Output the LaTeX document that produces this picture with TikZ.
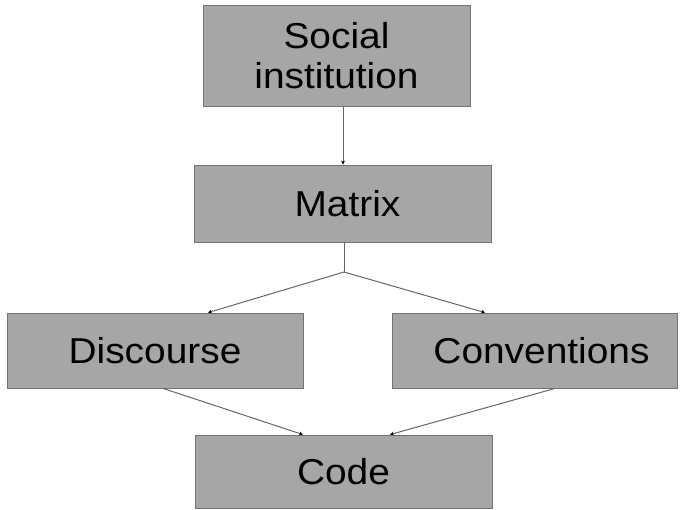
\documentclass[tikz,border=0pt]{standalone}
\usepackage{fontspec}
\newfontfamily\lab[FakeStretch=1.08]{Liberation Sans}
\usetikzlibrary{arrows.meta}
\begin{document}
\begin{tikzpicture}[x=1pt,y=-1pt,
  box/.style={draw=black!55, line width=0.8pt, fill=black!35, inner sep=0pt,
    font=\lab\fontsize{36}{40}\selectfont, text=black, align=center},
  conn/.style={draw=black!60, line width=1pt},
  arr/.style={conn, -{Stealth[length=4pt,width=4pt,black]}}]
\useasboundingbox (0,0) rectangle (680,510);
\node[box, minimum width=267pt, minimum height=101pt] (soc) at (336.5,56) {Social\\institution};
\node[box, minimum width=297pt, minimum height=77pt] (mat) at (342.5,203.5) {\hspace*{10pt}Matrix};
\node[box, minimum width=296pt, minimum height=75pt] (dis) at (155,350.5) {Discourse};
\node[box, minimum width=285pt, minimum height=75pt] (con) at (534.5,350.5) {\hspace*{14pt}Conventions};
\node[box, minimum width=297pt, minimum height=73pt] (cod) at (343.5,471.5) {Code};
\coordinate (sx) at (343,0);
\coordinate (j) at (344,272);
\coordinate (dt) at (208,0);
\coordinate (ct) at (485,0);
\coordinate (db) at (163,0);
\coordinate (cb) at (555,0);
\coordinate (kl) at (303,0);
\coordinate (kr) at (390,0);
\draw[arr] (soc.south -| sx) -- (mat.north -| sx);
\draw[conn] (mat.south -| j) -- (j);
\draw[arr] (j) -- (dis.north -| dt);
\draw[arr] (j) -- (con.north -| ct);
\draw[arr] (dis.south -| db) -- (cod.north -| kl);
\draw[arr] (con.south -| cb) -- (cod.north -| kr);
\end{tikzpicture}
\end{document}
